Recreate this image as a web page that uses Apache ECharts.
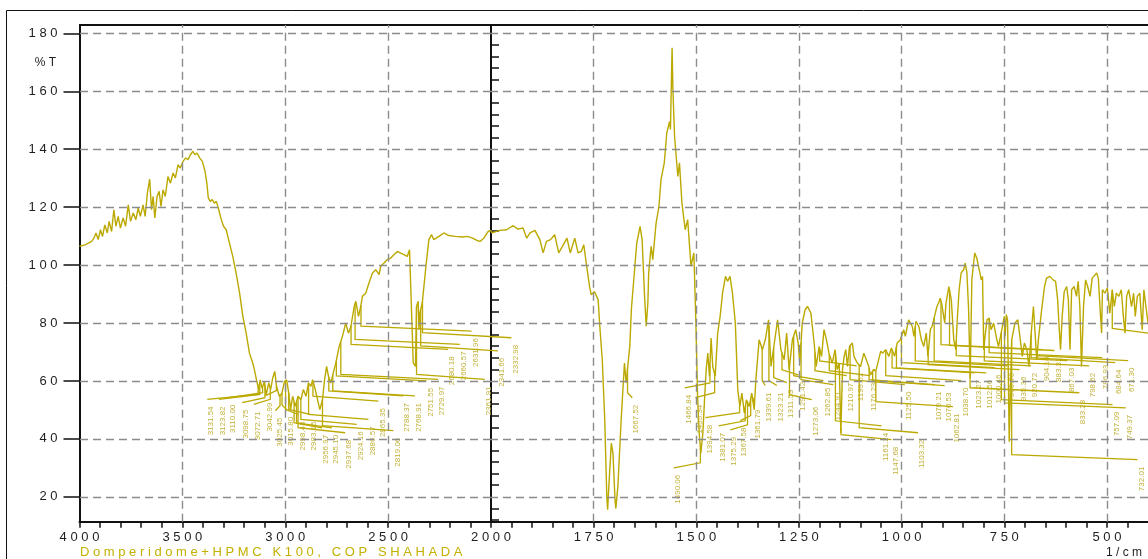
<!DOCTYPE html>
<html><head><meta charset="utf-8">
<script src="https://cdn.jsdelivr.net/npm/echarts@6/dist/echarts.min.js"></script>
<style>html,body{margin:0;padding:0;background:#fff}#c{width:1148px;height:559px}</style>
</head><body><div id="c"></div>
<script>
// ---------- data ----------
const wnLeft = [4000,3973,3957,3941,3930,3920,3909,3898,3888,3877,3865,3856,3844,3833,3823,3812,3801,3788,3776,3763,3752,3739,3726,3715,3704,3691,3681,3670,3659,3650,3642,3634,3623,3613,3604,3594,3583,3570,3558,3545,3534,3521,3510,3497,3484,3473,3461,3449,3439,3429,3416,3403,3390,3381,3374,3365,3355,3345,3335,3323,3311,3300,3287,3271,3255,3239,3222,3206,3190,3174,3158,3150,3138,3129,3122,3113,3101,3093,3080,3071,3061,3051,3042,3029,3016,3004,2993,2983,2974,2964,2951,2938,2924,2912,2899,2887,2875,2867,2854,2843,2832,2819,2809,2799,2790,2778,2767,2754,2738,2722,2706,2693,2681,2665,2657,2644,2633,2625,2609,2593,2576,2560,2544,2536,2520,2504,2488,2472,2455,2439,2423,2407,2396,2378,2367,2362,2354,2350,2346,2334,2318,2302,2289,2278,2253,2229,2205,2173,2140,2116,2092,2068,2052,2035,2014,2000];
const tLeft = [106.5,107.0,107.6,108.2,109.3,111.1,108.8,112.2,109.9,113.9,111.1,115.1,111.6,119.1,113.4,116.8,112.8,116.3,113.4,120.8,115.1,118.0,115.7,119.7,116.8,120.8,116.8,124.9,129.7,119.1,123.7,116.3,123.7,125.5,120.3,126.0,123.7,130.6,128.3,131.8,130.1,134.7,133.5,135.8,137.0,136.4,138.1,139.3,138.1,138.7,137.0,135.8,132.4,128.3,123.2,122.0,122.6,121.4,122.0,119.1,115.7,113.4,112.2,107.6,103.0,97.3,90.4,82.3,76.5,69.6,66.2,63.9,59.8,57.0,60.4,57.5,59.8,55.2,59.3,57.0,61.0,63.3,58.1,54.7,55.8,59.8,60.4,55.8,50.1,54.7,51.2,54.7,53.5,57.0,54.7,59.3,58.1,60.4,57.0,53.5,50.1,53.5,60.4,65.0,61.6,59.3,62.7,66.2,71.9,75.4,80.0,76.5,78.8,85.7,87.5,82.3,85.7,89.2,90.3,93.8,97.3,98.4,96.7,99.6,100.7,101.9,102.4,103.6,104.7,104.1,103.6,103.0,105.3,66.2,65.0,85.7,87.5,77.7,83.4,86.9,98.4,108.8,110.5,108.8,109.9,111.1,110.2,109.9,109.7,109.9,109.4,108.5,108.2,109.3,111.6,112.0];
const wnRight = [2000,1998,1978,1962,1946,1934,1922,1913,1905,1893,1881,1873,1865,1855,1845,1835,1824,1815,1807,1796,1788,1780,1774,1768,1760,1756,1748,1739,1735,1729,1723,1718,1716,1713,1707,1703,1698,1696,1691,1683,1675,1671,1662,1658,1650,1645,1637,1632,1626,1622,1618,1616,1610,1606,1598,1591,1586,1578,1572,1565,1563,1559,1557,1553,1545,1541,1535,1527,1521,1513,1506,1501,1497,1493,1489,1484,1480,1476,1472,1468,1464,1460,1454,1448,1442,1436,1429,1424,1418,1412,1405,1399,1394,1389,1383,1378,1371,1365,1359,1355,1347,1343,1339,1332,1324,1318,1310,1302,1294,1286,1280,1274,1266,1258,1252,1248,1242,1235,1229,1221,1213,1208,1201,1195,1189,1183,1177,1169,1162,1157,1152,1148,1144,1140,1136,1132,1127,1120,1116,1108,1100,1092,1086,1080,1076,1068,1063,1059,1051,1046,1039,1031,1025,1017,1011,1003,995,991,983,974,970,965,958,952,946,940,936,930,926,922,914,910,906,902,895,892,885,879,873,868,865,860,855,849,845,841,837,833,829,822,817,811,806,803,800,796,792,787,782,776,772,768,764,756,750,748,745,742,738,732,724,717,711,706,701,695,690,685,679,671,667,659,652,647,639,631,625,620,617,613,609,604,598,594,590,586,580,574,570,566,562,557,552,547,541,536,529,525,521,517,513,511,505,499,493,487,482,477,471,465,460,456,452,447,440,435,431,426,420,414,410,405,400];
const tRight = [112.0,111.1,112.0,112.2,113.6,112.4,112.8,109.3,111.1,112.0,108.8,104.2,108.2,108.8,110.5,104.2,107.0,109.3,104.2,109.3,104.2,104.7,107.0,100.7,92.6,89.8,90.9,88.0,78.8,67.3,46.6,20.1,15.5,23.6,38.5,35.1,19.0,16.0,23.6,46.6,66.2,59.3,72.0,85.0,99.0,107.6,113.4,108.8,89.2,78.9,86.9,97.3,106.5,101.9,114.5,120.3,129.5,135.3,145.6,149.6,146.8,175.0,160.6,144.5,130.6,135.3,121.4,112.2,115.7,99.6,104.2,80.0,54.7,42.0,35.1,42.0,53.5,63.9,69.6,61.6,74.8,65.0,61.6,76.5,82.3,90.4,96.1,94.4,96.1,90.4,80.0,57.0,51.2,55.8,48.9,53.5,51.2,55.8,50.1,60.4,74.2,74.8,70.8,74.2,81.1,65.0,73.1,81.1,70.8,67.3,76.5,63.9,74.2,77.7,73.1,66.2,80.0,84.6,85.7,83.4,73.1,65.0,71.9,68.5,77.7,74.2,69.6,66.2,70.8,63.9,66.2,42.0,63.9,68.5,70.8,65.0,71.9,73.1,68.5,66.2,65.0,69.6,67.3,65.0,62.1,64.0,63.3,63.9,70.2,69.6,70.8,68.5,71.4,68.5,73.1,74.2,77.7,75.4,81.1,78.8,75.4,80.6,78.8,74.2,71.9,76.5,68.5,77.7,78.8,81.1,85.7,86.9,88.6,86.3,80.0,86.9,92.6,88.0,74.2,70.8,80.0,91.5,97.3,98.4,100.7,97.3,85.0,61.0,95.0,104.2,102.4,98.4,94.9,96.1,70.8,76.5,81.1,81.7,77.7,80.0,80.0,74.2,71.9,77.7,82.3,75.4,82.9,81.1,39.0,74.2,80.0,81.1,74.2,68.5,73.1,70.8,65.0,75.4,85.7,67.3,74.2,84.6,92.6,95.5,96.1,94.9,94.4,88.0,80.0,70.8,82.3,90.9,92.6,88.0,70.8,91.5,92.6,89.2,94.4,85.7,65.0,85.7,94.9,92.6,89.2,95.5,96.6,97.3,95.5,85.7,76.5,91.5,90.3,92.1,83.4,91.5,85.7,90.3,89.2,91.5,82.3,76.5,89.2,91.5,85.7,90.3,82.3,89.2,90.3,77.7,91.5,85.7,80.0];

// peak labels: [peak wavenumber, label position (wavenumber), label top (%T)]
const peaksLeft = [
 [3131.54,3359.5,51.2],[3123.82,3303.3,51.2],[3110.00,3254.8,51.8],[3098.75,3189.9,50.1],
 [3072.71,3133.7,49.5],[3042.99,3077.0,52.5],[3025.45,3028.6,47.3],[3015.80,2971.9,47.6],
 [2998.43,2915.6,46.0],[2983.15,2859.0,46.0],
 [2956.97,2802.3,41.4],[2945.10,2753.9,41.4],[2937.68,2689.4,39.7],[2924.16,2632.8,42.6],
 [2886.57,2576.6,44.3],[2865.35,2528.1,50.6],[2819.06,2455.4,40.4],[2788.37,2407.0,52.4],
 [2768.91,2350.3,52.4],[2751.55,2293.6,57.6],[2729.97,2237.4,58.1],[2680.18,2188.9,68.5],
 [2660.57,2132.3,70.2],[2631.96,2075.6,74.8],[2361.91,2011.1,58.1],[2341.66,1946.7,68.0],
 [2332.98,1881.8,72.5]
];
const peaksRight = [
 [1667.52,1646.2,51.8],[1490.06,1545.2,27.6],[1466.84,1518.5,55.2],[1455.34,1492.5,51.8],
 [1394.58,1468.2,44.9],[1381.07,1435.9,42.1],[1375.29,1407.5,40.7],[1367.58,1383.2,43.9],
 [1361.79,1350.9,50.1],[1339.61,1322.5,56.0],[1323.21,1294.1,56.0],[1311.53,1269.8,57.0],
 [1291.42,1241.6,59.7],[1273.06,1209.1,51.1],[1262.85,1180.9,57.7],[1244.91,1156.6,56.3],
 [1210.97,1124.1,59.4],[1199.62,1099.8,62.8],[1176.23,1067.5,59.4],[1161.24,1039.1,42.1],
 [1147.68,1014.8,37.3],[1125.50,982.5,56.3],[1103.32,950.2,39.7],[1079.21,909.7,56.3],
 [1070.53,885.4,56.0],[1062.81,865.3,48.7],[1038.70,844.9,57.7],[1023.27,812.6,60.4],
 [1012.56,784.1,60.4],[1000.46,763.9,62.2],[966.76,732.4,62.8],[935.36,703.2,61.5],
 [920.72,674.8,62.8],[904.14,647.4,68.4],[883.31,618.2,68.1],[867.03,586.7,64.6],
 [833.28,557.6,53.5],[798.62,533.3,62.8],[786.93,501.7,65.6],[757.09,476.7,49.4],
 [749.37,444.2,48.3],[684.64,470.1,63.9],[671.30,438.6,64.6],[732.01,415.9,30.4],
 [487.00,385.0,74.0]
];
const yTicks = [20,40,60,80,100,120,140,160,180];
const yMinor = [12,16,24,28,32,36,44,48,52,56,64,68,72,76,84,88,92,96,104,108,112,116,124,128,132,136,144,148,152,156,164,168,172,176];
const xGridLeft = [3500,3000,2500];
const xGridRight = [1750,1500,1250,1000,750,500];

// ---------- helpers ----------
const allWn = wnLeft.concat(wnRight.slice(1));
const allT = tLeft.concat(tRight.slice(1));
function curveAt(w){
  for(let i=0;i<allWn.length-1;i++){
    const a=allWn[i], b=allWn[i+1];
    if(w<=a && w>=b){ const f=(a-w)/(a-b||1); return allT[i]+(allT[i+1]-allT[i])*f; }
  }
  return allT[allT.length-1];
}
const spaced = s => String(s).split('').join(' ');
const GOLD = '#bba900';
const LABEL = '#c2b23a';
const YMIN = 11.4, YMAX = 182.9;
const FONT = '"Liberation Sans", Arial, sans-serif';

function labelRender(params, api){
  const peak=api.value(0), lx=api.value(1), lt=api.value(2);
  const ct=curveAt(peak);
  const pc=api.coord([peak, ct]);
  const pl=api.coord([lx, lt]);
  const elbow=[pc[0], pl[1]-12];
  const end=[pl[0]-4, pl[1]-7];
  return {type:'group', children:[
    {type:'polyline', shape:{points:[pc,elbow,end]}, style:{stroke:GOLD, lineWidth:1.3, fill:null}},
    {type:'text', x:pl[0], y:pl[1], rotation:Math.PI/2,
     style:{text:peak.toFixed(2), fill:LABEL, font:'8px '+FONT, align:'right', verticalAlign:'middle'}}
  ]};
}

const gridLine = {type:[8,5], color:'#8c8c8c', width:1.4};
const ml = (arr) => ({silent:true, symbol:['none','none'], label:{show:false}, lineStyle:gridLine, animation:false, data:arr});
const axisTxt = {color:'#1e1e1e', fontSize:13, fontFamily:FONT};

const chart = echarts.init(document.getElementById('c'));
chart.setOption({
  animation:false,
  grid:[
    {left:79.5, right:1148-491, top:25, bottom:37.3},
    {left:491, right:-2, top:25, bottom:37.3}
  ],
  xAxis:[
    {gridIndex:0, type:'value', inverse:true, min:2000, max:4000, interval:100,
     axisLine:{show:true, lineStyle:{color:'#111', width:2}},
     axisTick:{show:true, length:6, lineStyle:{color:'#111', width:1.5}},
     axisLabel:Object.assign({show:true, margin:9, showMinLabel:true, showMaxLabel:true,
       formatter:v=> (v%500===0) ? spaced(v) : ''}, axisTxt),
     splitLine:{show:false}},
    {gridIndex:1, type:'value', inverse:true, min:400, max:2000, interval:50,
     axisLine:{show:true, lineStyle:{color:'#111', width:2}},
     axisTick:{show:true, length:6, lineStyle:{color:'#111', width:1.5}},
     axisLabel:Object.assign({show:true, margin:9, showMinLabel:false, showMaxLabel:false,
       formatter:v=> (v%250===0 && v<2000) ? spaced(v) : ''}, axisTxt),
     splitLine:{show:false}}
  ],
  yAxis:[
    {gridIndex:0, type:'value', min:YMIN, max:YMAX,
     axisLine:{show:true, lineStyle:{color:'#111', width:2}},
     axisTick:{show:true, length:16, customValues:yTicks, lineStyle:{color:'#111', width:1.5}},
     axisLabel:Object.assign({show:true, customValues:yTicks, margin:22, formatter:v=>spaced(v)}, axisTxt),
     splitLine:{show:false}},
    {gridIndex:0, type:'value', min:YMIN, max:YMAX,
     axisLine:{show:false},
     axisTick:{show:true, length:8, customValues:yMinor, lineStyle:{color:'#111', width:1.5}},
     axisLabel:{show:false}, splitLine:{show:false}},
    {gridIndex:1, type:'value', min:YMIN, max:YMAX,
     axisLine:{show:true, lineStyle:{color:'#111', width:2}},
     axisTick:{show:false}, axisLabel:{show:false}, splitLine:{show:false}}
  ],
  series:[
    {type:'line', xAxisIndex:0, yAxisIndex:0, data:[], z:1,
     markLine:ml(yTicks.map(v=>({yAxis:v})).concat(xGridLeft.map(v=>({xAxis:v}))))},
    {type:'line', xAxisIndex:1, yAxisIndex:2, data:[], z:1,
     markLine:ml(yTicks.map(v=>({yAxis:v})).concat(xGridRight.map(v=>({xAxis:v}))))},
    {type:'line', xAxisIndex:0, yAxisIndex:0, showSymbol:false, z:3, clip:true,
     lineStyle:{color:GOLD, width:1.4}, data:wnLeft.map((w,i)=>[w,tLeft[i]])},
    {type:'line', xAxisIndex:1, yAxisIndex:2, showSymbol:false, z:3, clip:true,
     lineStyle:{color:GOLD, width:1.4}, data:wnRight.map((w,i)=>[w,tRight[i]])},
    {type:'custom', xAxisIndex:0, yAxisIndex:0, z:4, clip:false, renderItem:labelRender, data:peaksLeft},
    {type:'custom', xAxisIndex:1, yAxisIndex:2, z:4, clip:false, renderItem:labelRender, data:peaksRight}
  ],
  graphic:[
    {type:'rect', shape:{x:6.5, y:10.5, width:1200, height:600}, style:{fill:null, stroke:'#111', lineWidth:1}, silent:true},
    {type:'line', shape:{x1:79, y1:25, x2:1160, y2:25}, style:{stroke:'#111', lineWidth:2}, silent:true},
    {type:'text', x:56, y:63, style:{text:'% T', fill:'#1e1e1e', font:'12px '+FONT, align:'right', verticalAlign:'middle'}},
    {type:'text', x:80, y:552, style:{text:spaced('Domperidome+HPMC K100, COP SHAHADA'), fill:'#c4b000', font:'13px '+FONT, align:'left', verticalAlign:'middle'}},
    {type:'text', x:1142, y:553, style:{text:spaced('1/cm'), fill:'#1e1e1e', font:'12px '+FONT, align:'right', verticalAlign:'middle'}}
  ]
});
</script></body></html>
